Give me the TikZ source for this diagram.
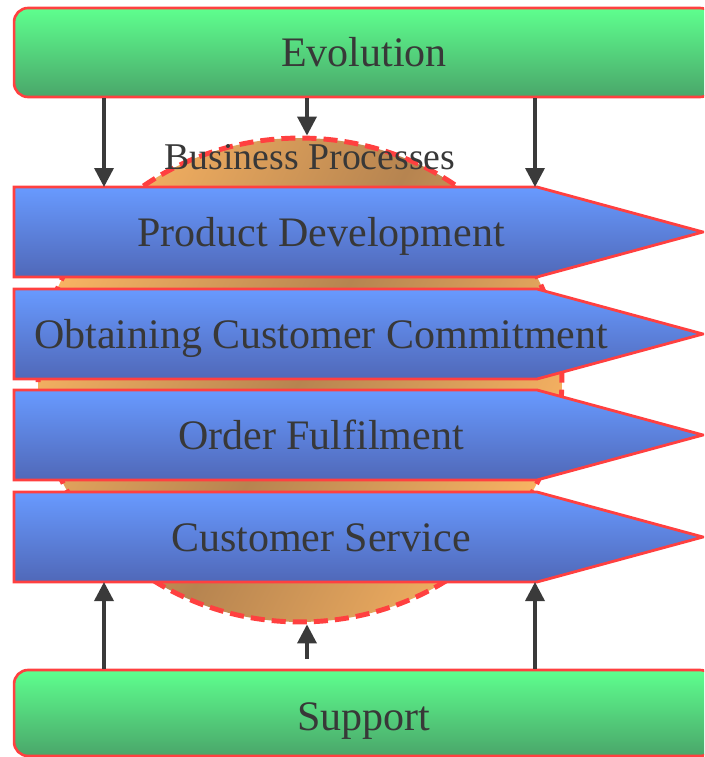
\documentclass[tikz,border=0pt]{standalone}
\usepackage{fontspec}
\setmainfont{Liberation Serif}
\usetikzlibrary{arrows.meta,shapes.geometric}
\definecolor{edgered}{RGB}{255,64,64}
\definecolor{grnT}{RGB}{94,255,142}
\definecolor{grnB}{RGB}{74,166,106}
\definecolor{bluT}{RGB}{104,154,255}
\definecolor{bluB}{RGB}{80,104,184}
\definecolor{orL}{RGB}{255,184,100}
\definecolor{orD}{RGB}{182,132,80}
\definecolor{ink}{RGB}{56,56,56}
\definecolor{arrowink}{RGB}{58,58,58}
\pgfdeclarehorizontalshading{orbandshade}{100bp}{color(0bp)=(orL); color(22bp)=(orL); color(50bp)=(orD); color(78bp)=(orL); color(100bp)=(orL)}
\tikzset{
 greenbox/.style={draw=edgered, line width=1.5pt, rounded corners=0.28cm, top color=grnT, bottom color=grnB, minimum width=14cm, inner sep=0pt, text=ink, font=\fontsize{23.9}{28}\selectfont},
 rowshape/.style={draw=edgered, line width=1.6pt, top color=bluT, bottom color=bluB},
 rowtext/.style={text=ink, inner sep=0pt, text height=16pt, text depth=0pt, font=\fontsize{23.9}{28}\selectfont},
 conn/.style={draw=arrowink, line width=2pt, -{Triangle[length=0.38cm,width=0.38cm]}},
 procblob/.style={ellipse, inner sep=0pt, minimum width=10.48cm, minimum height=9.68cm, shade, shading=orbandshade, shading angle=-27, draw=edgered, line width=2.8pt, dash pattern=on 8pt off 4pt},
 bptext/.style={text=ink, inner sep=0pt, font=\fontsize{21.5}{25}\selectfont},
}
\newcommand\procrow[3]{%
 \path[rowshape] (14,#1) -- (537,#1) -- (703,#1+45) -- (537,#1+90) -- (14,#1+90) -- cycle;
 \node[rowtext] (#2) at (321,#1+45) {#3};
 \coordinate (#2-top) at (321,#1);
 \coordinate (#2-bot) at (321,#1+90);}
\begin{document}
\begin{tikzpicture}[x=0.02cm,y=-0.02cm]
\useasboundingbox (0,0) rectangle (704,757);
\clip (0,0) rectangle (704,757);
\node[procblob] (bp) at (300,380) {};
\node[bptext] (bpt) at (310,157) {Business Processes};
\node[greenbox, minimum height=1.78cm] (evo) at (364,52.5) {Evolution};
\node[greenbox, minimum height=1.72cm, text height=20pt, text depth=0pt] (sup) at (364,713) {Support};
\procrow{187}{pd}{Product Development}
\procrow{289}{occ}{Obtaining Customer Commitment}
\procrow{390}{of}{Order Fulfilment}
\procrow{492}{cs}{Customer Service}
\coordinate (xl) at (104,0);
\coordinate (xm) at (307,0);
\coordinate (xr) at (535,0);
\coordinate (mstart) at (307,659);
\draw[conn] (evo.south -| xl) -- (pd-top -| xl);
\draw[conn] (evo.south -| xm) -- (bp.north -| xm);
\draw[conn] (evo.south -| xr) -- (pd-top -| xr);
\draw[conn] (sup.north -| xl) -- (cs-bot -| xl);
\draw[conn] (mstart) -- (bp.south -| xm);
\draw[conn] (sup.north -| xr) -- (cs-bot -| xr);
\end{tikzpicture}
\end{document}
